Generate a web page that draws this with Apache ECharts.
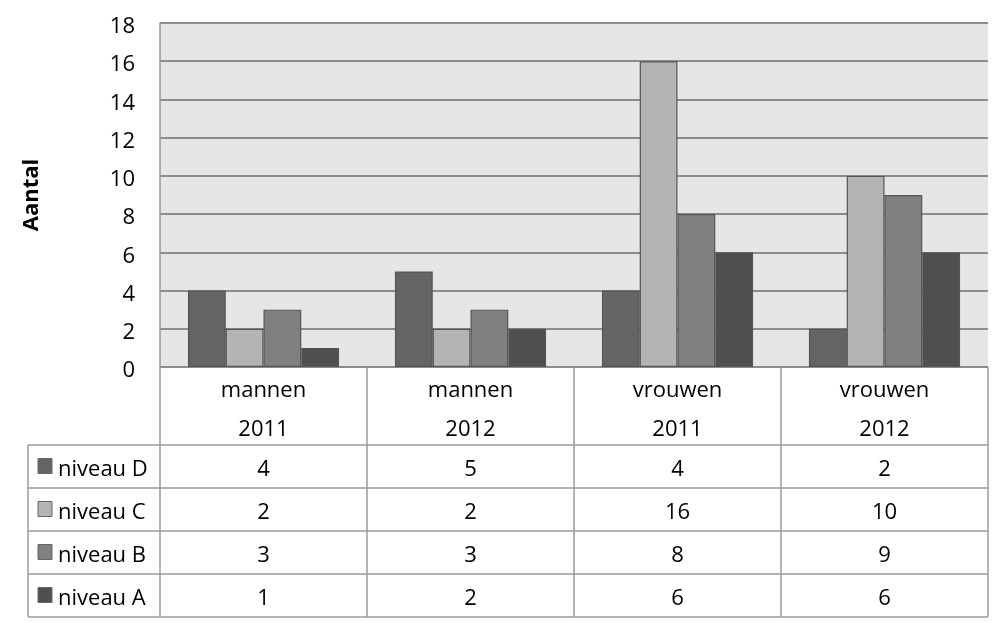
<!DOCTYPE html>
<html><head><meta charset="utf-8">
<script src="https://cdn.jsdelivr.net/npm/echarts@6/dist/echarts.min.js"></script>
<style>html,body{margin:0;padding:0;background:#fff}#c{width:1004px;height:623px}</style>
</head><body><div id="c"></div>
<script>
var groups = ['mannen', 'mannen', 'vrouwen', 'vrouwen'];
var years = ['2011', '2012', '2011', '2012'];
var seriesNames = ['niveau D', 'niveau C', 'niveau B', 'niveau A'];
var niveauD = [4, 5, 4, 2];
var niveauC = [2, 2, 16, 10];
var niveauB = [3, 3, 8, 9];
var niveauA = [1, 2, 6, 6];
var yTicks = [0, 2, 4, 6, 8, 10, 12, 14, 16, 18];
var colors = ['#646464', '#b4b4b4', '#808080', '#4f4f4f'];

var values = [niveauD, niveauC, niveauB, niveauA];
var categories = groups.map(function (g, i) { return g + '\n' + years[i]; });
var FONT = '"Open Sans", sans-serif';
var FS = 22;

var L = 160, R = 988, T = 23, B = 367;
var tableLeft = 28, headerBottom = 445, rowH = 43;
var lineColor = '#9a9a9a';

var chart = echarts.init(document.getElementById('c'));

var series = seriesNames.map(function (n, k) {
  return {
    name: n, type: 'bar', data: values[k],
    barGap: '0%', barCategoryGap: '27%',
    itemStyle: { color: colors[k], borderColor: '#555', borderWidth: 1.2 },
    emphasis: { disabled: true }
  };
});

var g = [];
function hline(x1, x2, y) { g.push({ type: 'line', shape: { x1: x1, y1: y, x2: x2, y2: y }, style: { stroke: lineColor, lineWidth: 1.5 }, silent: true }); }
function vline(x, y1, y2) { g.push({ type: 'line', shape: { x1: x, y1: y1, x2: x, y2: y2 }, style: { stroke: lineColor, lineWidth: 1.5 }, silent: true }); }
function txt(x, y, s, align) { g.push({ type: 'text', x: x, y: y, style: { text: s, fill: '#000', font: FS + 'px ' + FONT, align: align || 'center', verticalAlign: 'middle' }, silent: true }); }

var nRows = seriesNames.length;
var tableBottom = headerBottom + nRows * rowH;
var cw = (R - L) / categories.length;
var dy = 3;
hline(L, R, B);
for (var r = 0; r <= nRows; r++) hline(tableLeft, R, headerBottom + r * rowH);
vline(tableLeft, headerBottom, tableBottom);
for (var c = 0; c <= categories.length; c++) vline(L + c * cw, B, tableBottom);
for (var c2 = 0; c2 < categories.length; c2++) {
  var cx = L + (c2 + 0.5) * cw;
  txt(cx, 388 + dy, groups[c2]);
  txt(cx, 427 + dy, years[c2]);
  for (var r2 = 0; r2 < nRows; r2++) {
    txt(cx, headerBottom + (r2 + 0.5) * rowH + dy, String(values[r2][c2]));
  }
}
for (var r3 = 0; r3 < nRows; r3++) {
  var cy = headerBottom + (r3 + 0.5) * rowH;
  g.push({ type: 'rect', shape: { x: 38, y: cy - 8, width: 14, height: 15 }, style: { fill: colors[r3], stroke: '#666', lineWidth: 1 }, silent: true });
  txt(58, cy + dy, seriesNames[r3], 'left');
}

chart.setOption({
  animation: false,
  backgroundColor: '#fff',
  grid: { left: L, right: 1004 - R, top: T, bottom: 623 - B, show: true, backgroundColor: '#e6e6e6', borderWidth: 0 },
  xAxis: {
    type: 'category', data: categories,
    axisLine: { show: false }, axisTick: { show: false }, axisLabel: { show: false }, splitLine: { show: false }
  },
  yAxis: {
    type: 'value', min: yTicks[0], max: yTicks[yTicks.length - 1], interval: yTicks[1] - yTicks[0],
    name: 'Aantal', nameLocation: 'middle', nameGap: 117, nameRotate: 90,
    nameTextStyle: { fontFamily: FONT, fontSize: FS, fontWeight: 'bold', color: '#000' },
    axisLine: { show: true, lineStyle: { color: lineColor, width: 1.5 } },
    axisTick: { show: false },
    axisLabel: { fontFamily: FONT, fontSize: FS, color: '#000', margin: 25, formatter: '{v|{value}}', rich: { v: { fontFamily: FONT, fontSize: FS, color: '#000', lineHeight: 22, padding: [8, 0, 0, 0] } } },
    splitLine: { show: true, lineStyle: { color: '#8c8c8c', width: 2 } }
  },
  series: series,
  graphic: g
});
</script></body></html>
